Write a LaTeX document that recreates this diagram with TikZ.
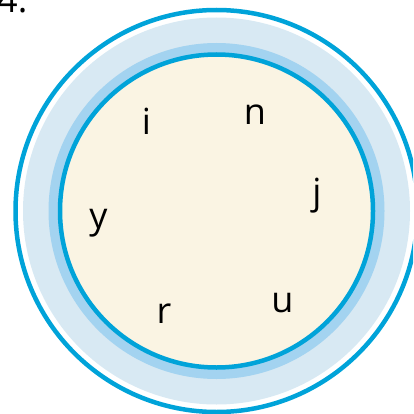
\documentclass[tikz,border=0pt]{standalone}
\usepackage{fontspec}
\setmainfont{Open Sans}
\definecolor{ringblue}{HTML}{00A3D9}
\definecolor{lightband}{HTML}{D8E9F3}
\definecolor{midband}{HTML}{A3D3F0}
\definecolor{cream}{HTML}{FAF4E3}
\tikzset{lbl/.style={anchor=base,inner sep=0pt,font=\fontsize{36}{40}\selectfont,text=black}}
\begin{document}
\begin{tikzpicture}[x=1pt,y=-1pt]
\useasboundingbox (0,0) rectangle (413,414);
\clip (0,0) rectangle (413,414);
\coordinate (c) at (216.5,211);
\draw[ringblue,line width=4.5pt] (c) circle[radius=201];
\fill[lightband] (c) circle[radius=193.5];
\fill[midband] (c) circle[radius=168];
\fill[cream,draw=ringblue,line width=4.5pt] (c) circle[radius=156.5];
\node[lbl,anchor=base west] (num) at (-3,13) {4.};
\node[lbl] (i) at (146.5,135) {i};
\node[lbl] (n) at (255,125) {n};
\node[lbl] (j) at (317,204) {j};
\node[lbl] (y) at (98.5,228) {y};
\node[lbl] (u) at (282.5,312) {u};
\node[lbl] (r) at (164,323) {r};
\end{tikzpicture}
\end{document}
